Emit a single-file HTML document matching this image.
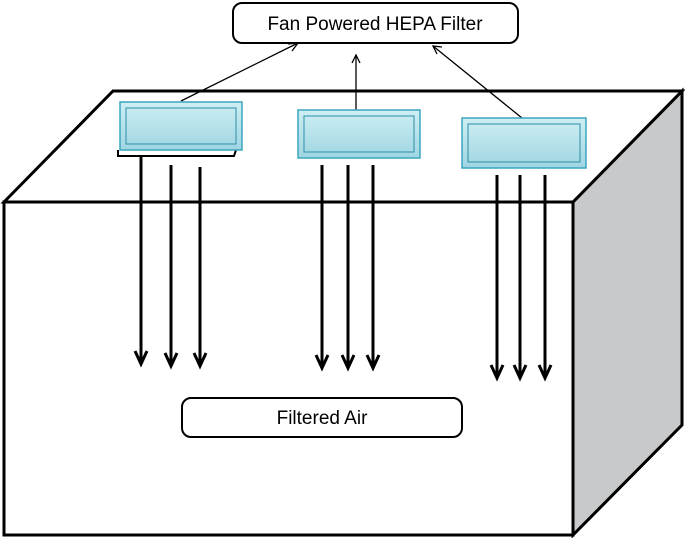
<!DOCTYPE html>
<html><head><style>body{margin:0;background:#fff}</style></head><body>
<svg width="685" height="538" xmlns="http://www.w3.org/2000/svg">
<defs>
<linearGradient id="g" x1="0" y1="0" x2="0" y2="1"><stop offset="0" stop-color="#cfeef4"/><stop offset="1" stop-color="#9fd6e2"/></linearGradient>
</defs>
<polygon points="573,202 682,91 682,425 573,535" fill="#c8c9cb" stroke="#000" stroke-width="3"/>
<polygon points="4,202 113,91 682,91 573,202" fill="#fff" stroke="#000" stroke-width="3"/>
<rect x="4" y="202" width="569" height="333" fill="#fff" stroke="#000" stroke-width="3"/>
<g fill="none" stroke="#000" stroke-width="1.3">
<line x1="181" y1="101" x2="298" y2="43"/>
<path d="M288,44 L298,43 L292,51"/>
<line x1="356" y1="110" x2="356" y2="55"/>
<path d="M352,63 L356,55 L360,63"/>
<line x1="522" y1="118" x2="433" y2="46"/>
<path d="M442,47 L433,46 L437,54"/>
</g>
<path d="M118,150 L118,156 L234,156 L236,150" fill="none" stroke="#000" stroke-width="2"/>
<g stroke="#3ba5bf" stroke-width="1.5">
<rect x="120" y="102" width="122" height="48" fill="url(#g)"/>
<rect x="298" y="110" width="122" height="48" fill="url(#g)"/>
<rect x="462" y="118" width="124" height="50" fill="url(#g)"/>
</g>
<g fill="none" stroke="#2e8ea6" stroke-width="1">
<rect x="126" y="108" width="110" height="36"/>
<rect x="304" y="116" width="110" height="36"/>
<rect x="468" y="124" width="112" height="38"/>
</g>
<g stroke="#000" stroke-width="3" fill="none">
<line x1="141" y1="156" x2="141" y2="364"/><path d="M135,351 L141,364 L147,351"/>
<line x1="171" y1="165" x2="171" y2="366"/><path d="M165,353 L171,366 L177,353"/>
<line x1="200" y1="167" x2="200" y2="366"/><path d="M194,353 L200,366 L206,353"/>
<line x1="322" y1="165" x2="322" y2="368"/><path d="M316,355 L322,368 L328,355"/>
<line x1="348" y1="165" x2="348" y2="368"/><path d="M342,355 L348,368 L354,355"/>
<line x1="373" y1="165" x2="373" y2="368"/><path d="M367,355 L373,368 L379,355"/>
<line x1="497" y1="175" x2="497" y2="378"/><path d="M491,365 L497,378 L503,365"/>
<line x1="520" y1="175" x2="520" y2="378"/><path d="M514,365 L520,378 L526,365"/>
<line x1="545" y1="175" x2="545" y2="378"/><path d="M539,365 L545,378 L551,365"/>
</g>
<rect x="233" y="3" width="285" height="40" rx="9" fill="#fff" stroke="#000" stroke-width="2"/>
<text x="375" y="30" text-anchor="middle" font-family="Liberation Sans, sans-serif" font-size="19">Fan Powered HEPA Filter</text>
<rect x="182" y="398" width="280" height="39" rx="9" fill="#fff" stroke="#000" stroke-width="2"/>
<text x="322" y="424" text-anchor="middle" font-family="Liberation Sans, sans-serif" font-size="19">Filtered Air</text>
</svg>
</body></html>
